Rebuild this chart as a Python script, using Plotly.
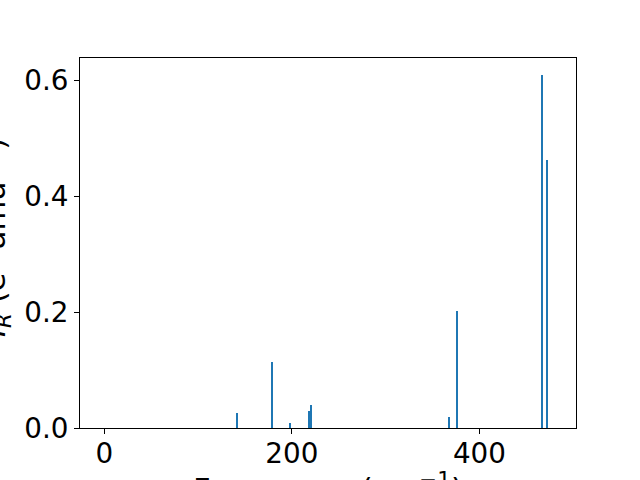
import plotly.graph_objects as go

freqs = [141.9, 178.9, 197.7, 218.3, 220.0, 367.7, 375.9, 466.9, 472.5]
intensities = [0.026, 0.1146, 0.009, 0.030, 0.040, 0.0195, 0.201, 0.609, 0.462]
x_ticks = [0, 200, 400]
y_ticks = [0.0, 0.2, 0.4, 0.6]
x_title = "Frequency (cm<sup>−1</sup>)"
y_title = "<i>I</i><sub><i>R</i></sub> (e<sup>2</sup> amu<sup>−1</sup>)"

FONT = dict(family="DejaVu Sans", size=27.8, color="black")
TFONT = dict(family="DejaVu Sans", size=30.6, color="black")

fig = go.Figure()
fig.add_trace(go.Bar(x=freqs, y=intensities, width=2.1,
                     marker=dict(color="#1f77b4", line=dict(width=0))))

fig.update_layout(
    width=640, height=480,
    margin=dict(l=80, r=64, t=58, b=52, autoexpand=False),
    paper_bgcolor="white", plot_bgcolor="white",
    showlegend=False,
    font=FONT,
    bargap=0,
)
fig.update_xaxes(
    range=[-26, 503], tickvals=x_ticks, ticktext=[str(v) for v in x_ticks],
    ticks="outside", ticklen=5, tickwidth=1, tickcolor="black",
    showline=True, linecolor="black", linewidth=1, mirror=True,
    showgrid=False, zeroline=False, tickfont=FONT, ticklabelstandoff=-4,
    automargin=False,
)
fig.update_yaxes(
    range=[0, 0.638], tickvals=y_ticks, ticktext=[f"{v:.1f}" for v in y_ticks],
    ticks="outside", ticklen=5, tickwidth=1, tickcolor="black",
    showline=True, linecolor="black", linewidth=1, mirror=True,
    showgrid=False, zeroline=False, tickfont=FONT,
    automargin=False,
)
fig.add_annotation(text=x_title, xref="paper", yref="paper", x=0.5, y=0,
                   xanchor="center", yanchor="top", yshift=-37,
                   showarrow=False, font=TFONT)
fig.add_annotation(text=y_title, xref="paper", yref="paper", x=0, y=0.5,
                   xanchor="right", yanchor="middle", xshift=-62, yshift=5,
                   textangle=-90, showarrow=False, font=TFONT)

fig.write_html("out.html", config={"displayModeBar": False, "staticPlot": True},
               post_script="document.body.style.margin='0';")
